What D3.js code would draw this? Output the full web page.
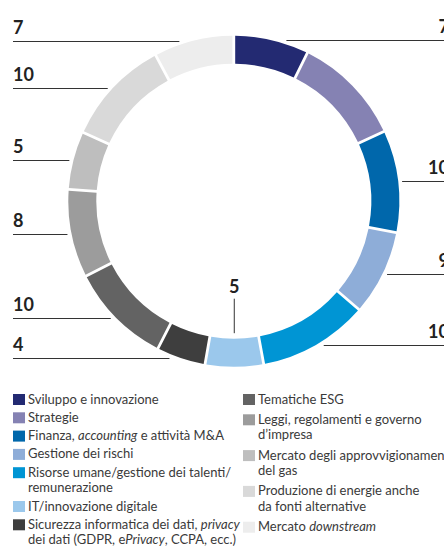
<!DOCTYPE html>
<html>
<head>
<meta charset="utf-8">
<script src="https://cdn.jsdelivr.net/npm/d3@7"></script>
<style>
  html, body { margin: 0; padding: 0; background: #fff; }
  svg { display: block; }
  .num { font-family: Lato, "Open Sans", sans-serif; font-weight: 700; font-size: 18px; fill: #222; }
  .leg { font-family: Lato, "Open Sans", sans-serif; font-size: 13px; fill: #3a3a3a; }
  .lead { stroke: #333; stroke-width: 1; fill: none; }
</style>
</head>
<body>
<svg id="chart"></svg>
<script>
// Categories, clockwise from 12 o'clock
const categories = [
  'Sviluppo e innovazione', 'Strategie', 'Finanza, accounting e attività M&A',
  'Gestione dei rischi', 'Risorse umane/gestione dei talenti/remunerazione',
  'IT/innovazione digitale', 'Sicurezza informatica dei dati, privacy',
  'Tematiche ESG', 'Leggi, regolamenti e governo d’impresa',
  'Mercato degli approvvigionamenti del gas',
  'Produzione di energie anche da fonti alternative', 'Mercato downstream'
];
// arc shares
const shares = [7.3, 10.8, 10, 8.3, 10.8, 5.6, 4.7, 10, 8.6, 5.6, 10.4, 7.8];
// printed numbers (Strategie has none in the picture)
const labels = [7, null, 10, 9, 10, 5, 4, 10, 8, 5, 10, 7];
const colors = ['#232a72', '#8582b3', '#0067ab', '#8eadd8', '#0095d4', '#9bc8ec',
                '#3e3e3e', '#636363', '#9c9c9c', '#bebebe', '#d9d9d9', '#ededed'];
// legend lines, *...* = italic
const legendCol1 = [
  ['Sviluppo e innovazione'],
  ['Strategie'],
  ['Finanza, *accounting* e attività M&A'],
  ['Gestione dei rischi'],
  ['Risorse umane/gestione dei talenti/', 'remunerazione'],
  ['IT/innovazione digitale'],
  ['Sicurezza informatica dei dati, *privacy*', 'dei dati (GDPR, e*Privacy*, CCPA, ecc.)']
];
const legendCol2 = [
  ['Tematiche ESG'],
  ['Leggi, regolamenti e governo', 'd’impresa'],
  ['Mercato degli approvvigionamenti', 'del gas'],
  ['Produzione di energie anche', 'da fonti alternative'],
  ['Mercato *downstream*']
];

const width = 444, height = 547;
const cx = 233.8, cy = 201.2;
const outerR = 165.5, innerR = 137.5;
const leadR = outerR + 4;

const svg = d3.select('#chart').attr('width', width).attr('height', height);

const pie = d3.pie().sort(null).value(d => d).padAngle(0.013);
const arc = d3.arc().innerRadius(innerR).outerRadius(outerR);
const arcs = pie(shares);

const ring = svg.append('g').attr('transform', `translate(${cx},${cy})`);
ring.selectAll('path')
  .data(arcs)
  .join('path')
    .attr('d', arc)
    .attr('fill', (d, i) => colors[i]);

// number labels with leader lines
const lab = svg.append('g');
arcs.forEach((d, i) => {
  if (labels[i] == null) return;
  const mid = (d.startAngle + d.endAngle) / 2;
  const deg = mid * 180 / Math.PI;
  if (Math.abs(deg - 180) < 10) {
    // bottom slice: label inside the hole
    const x = cx + Math.sin(mid) * innerR;
    const y0 = cy + (innerR - 5.5), y1 = cy + (innerR - 40);
    lab.append('line').attr('class', 'lead')
      .attr('x1', x).attr('x2', x).attr('y1', y0).attr('y2', y1);
    lab.append('text').attr('class', 'num')
      .attr('x', x).attr('y', y1 - 6).attr('text-anchor', 'middle')
      .text(labels[i]);
    return;
  }
  const y = cy - Math.cos(mid) * outerR;
  const dx = Math.sqrt(leadR * leadR - (y - cy) * (y - cy));
  const right = Math.sin(mid) > 0;
  const xr = right ? cx + dx : cx - dx;
  lab.append('line').attr('class', 'lead')
    .attr('x1', right ? xr : 13).attr('x2', right ? width : xr)
    .attr('y1', Math.round(y) + 0.5).attr('y2', Math.round(y) + 0.5);
  lab.append('text').attr('class', 'num')
    .attr('x', right ? 449 : 13)
    .attr('y', Math.round(y) - 7.5)
    .attr('text-anchor', right ? 'end' : 'start')
    .text(labels[i]);
});

// legend
function drawLegend(items, colorOffset, x0, gap) {
  const lineH = 15.5;
  let y = 399;
  items.forEach((lines, k) => {
    svg.append('rect')
      .attr('x', x0).attr('y', y - 5).attr('width', 12).attr('height', 11)
      .attr('fill', colors[colorOffset + k]);
    lines.forEach((ln, j) => {
      const t = svg.append('text').attr('class', 'leg')
        .attr('x', x0 + 15).attr('y', y + j * lineH).attr('dy', '0.35em');
      ln.split('*').forEach((part, p) => {
        if (!part) return;
        t.append('tspan').attr('font-style', p % 2 ? 'italic' : null).text(part);
      });
    });
    y += lines.length * lineH + gap;
  });
}
drawLegend(legendCol1, 0, 13, 2.8);
drawLegend(legendCol2, 7, 243, 4.8);
</script>
</body>
</html>
